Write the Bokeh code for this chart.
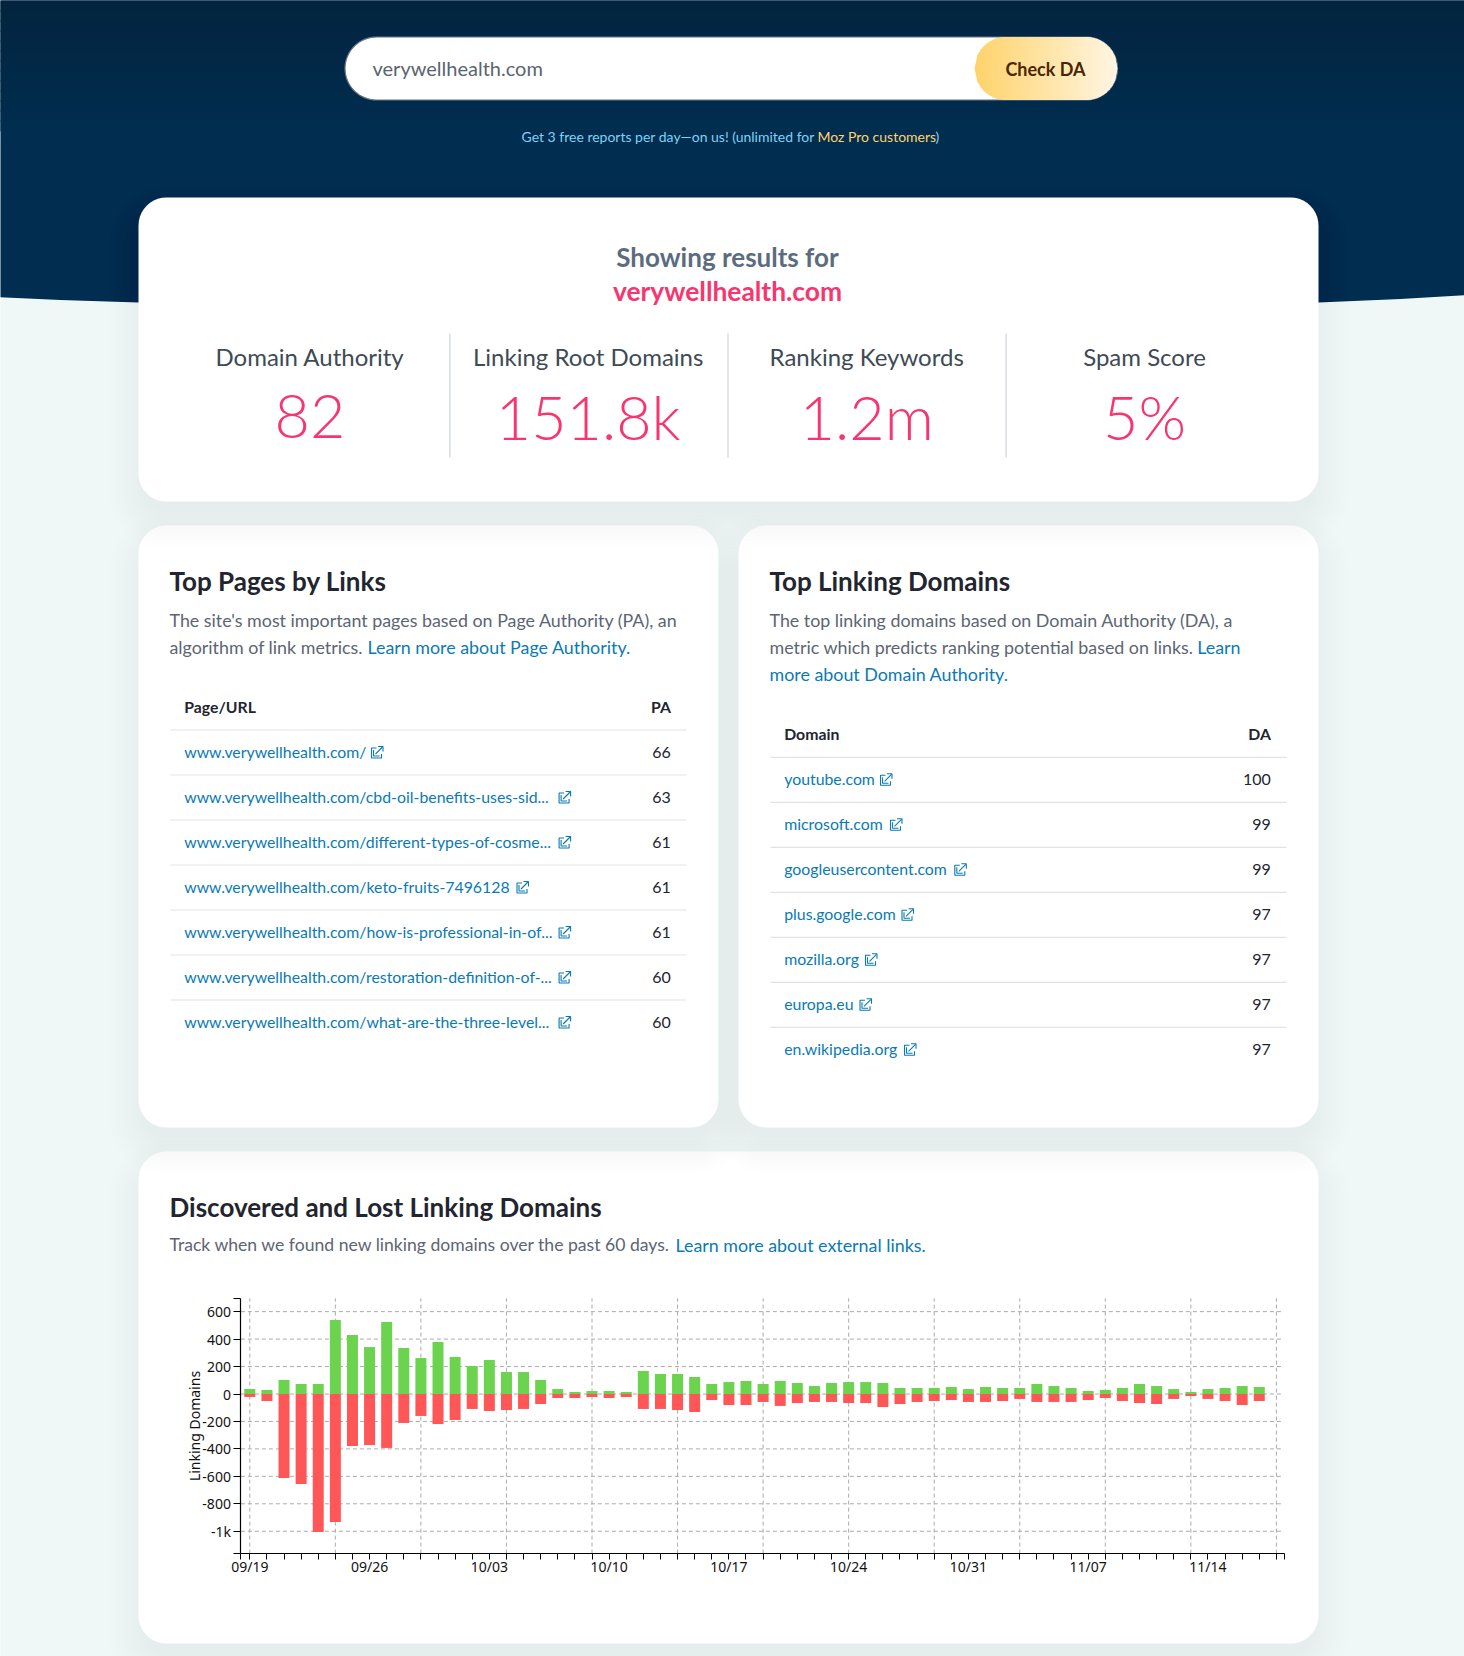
from bokeh.plotting import figure
from bokeh.embed import file_html
from bokeh.resources import INLINE
from bokeh.core.properties import value
from bokeh.models import Range1d, LinearAxis, FixedTicker, AllLabels
import math

# ---------- data ----------
discovered = [36, 29, 102, 73, 73, 539, 430, 342, 525, 335, 262, 379, 270, 204, 248, 160, 160, 102, 36, 15,
              22, 22, 15, 168, 146, 146, 124, 73, 87, 95, 73, 95, 80, 58, 80, 87, 87, 80, 44, 44,
              44, 51, 36, 51, 44, 44, 73, 58, 44, 22, 29, 44, 73, 58, 36, 15, 36, 44, 58, 51]
lost = [-22, -51, -612, -656, -1005, -933, -379, -372, -393, -211, -160, -219, -189, -109, -124, -117, -109, -73, -29, -29,
        -22, -29, -22, -109, -109, -117, -131, -44, -80, -80, -58, -87, -66, -58, -58, -66, -66, -95, -73, -58,
        -51, -44, -58, -58, -51, -36, -58, -58, -58, -44, -29, -51, -66, -73, -36, -15, -36, -51, -80, -51]
days = list(range(len(discovered)))
x_labels = {0: "09/19", 7: "09/26", 14: "10/03", 21: "10/10", 28: "10/17", 35: "10/24", 42: "10/31", 49: "11/07", 56: "11/14"}
y_values = [600, 400, 200, 0, -200, -400, -600, -800, -1000]
y_labels = ["600", "400", "200", "0", "-200", "-400", "-600", "-800", "-1k"]
x_grid_days = [0, 5, 10, 15, 20, 25, 30, 35, 40, 45, 50, 55, 60]

metrics = ["Domain Authority", "Linking Root Domains", "Ranking Keywords", "Spam Score"]
metric_values = ["82", "151.8k", "1.2m", "5%"]
pages = ["www.verywellhealth.com/", "www.verywellhealth.com/cbd-oil-benefits-uses-sid...",
         "www.verywellhealth.com/different-types-of-cosme...", "www.verywellhealth.com/keto-fruits-7496128",
         "www.verywellhealth.com/how-is-professional-in-of...", "www.verywellhealth.com/restoration-definition-of-...",
         "www.verywellhealth.com/what-are-the-three-level..."]
page_pa = [66, 63, 61, 61, 61, 60, 60]
domains = ["youtube.com", "microsoft.com", "googleusercontent.com", "plus.google.com", "mozilla.org", "europa.eu", "en.wikipedia.org"]
domain_da = [100, 99, 99, 97, 97, 97, 97]

# ---------- layout constants ----------
W, H = 1464, 1656
DAY0, DAYPX = 249.3, 17.11
ZERO, UNITPX = 1393.5, 0.13725
X_MIN, X_MAX = -0.52, 60.5
Y_MIN, Y_MAX = -1163, 697
NAVY_TOP, NAVY = (2, 36, 62), (1, 45, 80)
PAGE_BG = "#f0f7f7"
LINK = "#0a7ab3"
DESC = "#5c6573"
TITLE = "#22252f"
PINK = "#f7356f"
LATO = "Lato"
DESC_SIZE = 17.85
URL_SIZE = 15.85

p = figure(width=W, height=H, x_range=(0, W), y_range=(H, 0), min_border=0,
           x_axis_type=None, y_axis_type=None, toolbar_location=None, output_backend="svg",
           outline_line_color=None, background_fill_color=PAGE_BG, border_fill_color=PAGE_BG,
           styles={"position": "absolute", "left": "0", "top": "0"})
p.extra_x_ranges["days"] = Range1d(start=(0 - DAY0) / DAYPX, end=(W - DAY0) / DAYPX)
p.extra_y_ranges["dom"] = Range1d(start=(ZERO - H) / UNITPX, end=ZERO / UNITPX)


def rr(x0, y0, x1, y1, r, n=10):
    xs, ys = [], []
    corners = [(x1 - r, y0 + r, -90), (x1 - r, y1 - r, 0), (x0 + r, y1 - r, 90), (x0 + r, y0 + r, 180)]
    for cx, cy, a in corners:
        for k in range(n + 1):
            t = math.radians(a + 90 * k / n)
            xs.append(cx + r * math.cos(t))
            ys.append(cy + r * math.sin(t))
    return xs, ys


def txt(x, y, s, size, color, align="left", style="normal", font=LATO):
    p.text(x=[x], y=[y], text=[s], text_font=value(font), text_font_size=value(f"{size}px"), text_color=color,
           text_align=align, text_baseline="middle", text_font_style=style)


def card(x0, y0, x1, y1, r=28):
    for i in range(10):
        e = 30 - i * 4
        xs, ys = rr(x0 - e, y0 - e + 18, x1 + e, y1 + e + 18, max(r + e, 4))
        p.patch(xs, ys, fill_color="#1a3a3a", fill_alpha=0.0045, line_color=None)
    xs, ys = rr(x0, y0, x1, y1, r)
    p.patch(xs, ys, fill_color="white", line_color=None)


def icon(x, y, color=LINK):
    shapes = [[(5, -4), (0, -4), (0, 6), (10, 6), (10, 2)], [(2, -2), (2, 4), (8, 4)],
              [(4, 2), (11, -5)], [(6.5, -5.5), (11.5, -5.5), (11.5, -0.5)]]
    p.multi_line([[x + a for a, b in s] for s in shapes], [[y + b for a, b in s] for s in shapes],
                 line_color=color, line_width=1.1)


# ---------- page background ----------
p.patch([-5, 60, 138, 1318, 1400, W + 5, W + 5, -5], [296.5, 299.5, 302, 302, 298.5, 294.5, -5, -5],
        fill_color="#%02x%02x%02x" % NAVY, line_color=None)
for i in range(13):
    t = (i + 0.5) / 13
    c = tuple(round(a + (b - a) * t) for a, b in zip(NAVY_TOP, NAVY))
    p.quad(left=[-5], right=[W + 5], top=[i * 10 - (5 if i == 0 else 0)], bottom=[(i + 1) * 10 + 1],
           fill_color="#%02x%02x%02x" % c, line_color=None)

# ---------- search box ----------
bx0, by0, bx1, by1 = 344.5, 36.5, 1117, 99.5
xs, ys = rr(bx0, by0, bx1, by1, 31.5, 16)
p.patch(xs, ys, fill_color="white", line_color="#66758a", line_width=1.2)
btn_x0 = 974.0
rad = (by1 - by0) / 2
n_strips = 48
for i in range(n_strips):
    a = btn_x0 + (bx1 - btn_x0) * i / n_strips
    b = btn_x0 + (bx1 - btn_x0) * (i + 1) / n_strips
    t = (i + 0.5) / n_strips
    col = tuple(round(u + (v - u) * t) for u, v in zip((255, 211, 106), (255, 245, 227)))
    qx, qy_t, qy_b = [], [], []
    for x in (a, b, min(b + 1, bx1)):
        if x < btn_x0 + rad:
            d = btn_x0 + rad - x
        elif x > bx1 - rad:
            d = x - (bx1 - rad)
        else:
            d = 0
        h = math.sqrt(max(rad * rad - d * d, 0))
        qx.append(x)
        qy_t.append((by0 + by1) / 2 - h)
        qy_b.append((by0 + by1) / 2 + h)
    p.patch(qx + qx[::-1], qy_t + qy_b[::-1], fill_color="#%02x%02x%02x" % col, line_color=None)
txt(372, 67, "verywellhealth.com", 20, "#5a6570")
txt(1045, 68, "Check DA", 18, "#4a2606", "center", "bold")
txt(521, 136, "Get 3 free reports per day\u2014on us! (unlimited for ", 14, "#7dd3f5")
txt(817, 136, "Moz Pro customers", 14, "#ffd36b")
txt(935, 136, ")", 14, "#7dd3f5")

# ---------- cards ----------
card(138, 1151, 1318, 1643)
card(138, 525, 718, 1127)
card(738, 525, 1318, 1127)
card(138, 197, 1318, 501)

# ---------- header card ----------
txt(727, 256, "Showing results for", 26, "#5b6b80", "center", "bold")
txt(727, 290, "verywellhealth.com", 26.4, PINK, "center", "bold")
for dx in (449.4, 727.5, 1005.6):
    p.segment([dx], [333], [dx], [457], line_color="#c4ccd0", line_width=1)
for cx, m, v in zip((309.5, 587.7, 866.2, 1144), metrics, metric_values):
    txt(cx, 356, m, 24, "#3e4a55", "center")
    txt(cx, 416, v, 61, PINK, "center", font="Lato Light")

# ---------- tables ----------
def table(left, right, head_y, title, desc_lines, head_l, head_r, rows, vals, icons):
    txt(left - 1, 580, title, 26, TITLE, style="bold")
    for y, parts in desc_lines:
        for x, s, c in parts:
            txt(x - 1, y - 2, s, DESC_SIZE, c)
    txt(left + 13.7, head_y - 1, head_l, 15.8, "#22252f", style="bold")
    txt(right - 15.6, head_y - 1, head_r, 15.8, "#22252f", "right", "bold")
    line0 = head_y + 22.5
    for k in range(len(rows)):
        p.segment([left], [line0 + 45 * k], [right], [line0 + 45 * k], line_color="#dfe3e5", line_width=1.2)
        y = line0 + 22.5 + 45 * k
        txt(left + 13.7, y - 1, rows[k], URL_SIZE, LINK)
        txt(right - 15.6, y, str(vals[k]), 16, "#22252f", "right")
        icon(icons[k], y - 0.5)


table(170, 686, 707, "Top Pages by Links",
      [(621, [(170, "The site's most important pages based on Page Authority (PA), an", DESC)]),
       (648, [(170, "algorithm of link metrics. ", DESC), (368, "Learn more about Page Authority.", LINK)])],
      "Page/URL", "PA", pages, page_pa, [371, 558.6, 558.6, 516.5, 558.6, 558.6, 558.6])
table(770, 1286, 734.3, "Top Linking Domains",
      [(621, [(770, "The top linking domains based on Domain Authority (DA), a", DESC)]),
       (648, [(770, "metric which predicts ranking potential based on links. ", DESC), (1197.7, "Learn", LINK)]),
       (675, [(770, "more about Domain Authority.", LINK)])],
      "Domain", "DA", domains, domain_da, [880, 890, 954.3, 901.5, 865, 859.5, 904])

# ---------- chart card ----------
txt(169, 1206, "Discovered and Lost Linking Domains", 26, TITLE, style="bold")
txt(169, 1244, "Track when we found new linking domains over the past 60 days. ", 17.6, DESC)
txt(675, 1244, "Learn more about external links.", DESC_SIZE, LINK)

RN = dict(x_range_name="days", y_range_name="dom")
GRID = dict(line_color="#aaaaaa", line_width=1)
g1 = p.segment(x0=x_grid_days, y0=[Y_MIN] * len(x_grid_days), x1=x_grid_days, y1=[Y_MAX] * len(x_grid_days), **RN, **GRID)
g2 = p.segment(x0=[X_MIN] * len(y_values), y0=y_values, x1=[60.28] * len(y_values), y1=y_values, **RN, **GRID)
g1.glyph.line_dash = [4, 3]
g2.glyph.line_dash = [4, 3]
p.vbar(x=days, top=discovered, bottom=0, width=0.643, fill_color="#6cd34f", line_color=None, **RN)
p.vbar(x=days, top=0, bottom=lost, width=0.643, fill_color="#ff5757", line_color=None, **RN)

x_ticks = [X_MIN] + days + [60, X_MAX]
x_over = {t: x_labels.get(t, "") for t in x_ticks}
xaxis = LinearAxis(fixed_location=Y_MIN, bounds=(X_MIN, X_MAX), ticker=FixedTicker(ticks=x_ticks),
                   major_label_overrides=x_over, major_label_policy=AllLabels(), **RN,
                   major_tick_in=0, major_tick_out=6, minor_tick_line_color=None,
                   axis_line_color="black", axis_line_width=1.2, major_tick_line_color="black",
                   major_label_text_font="Noto Sans", major_label_text_font_size="14px",
                   major_label_text_color="#111111", major_label_standoff=-3)
p.add_layout(xaxis, "below")

y_ticks = [Y_MAX] + y_values + [Y_MIN]
y_over = dict(zip(y_values, y_labels))
y_over[Y_MAX] = ""
y_over[Y_MIN] = ""
yaxis = LinearAxis(fixed_location=X_MIN, bounds=(Y_MIN, Y_MAX), ticker=FixedTicker(ticks=y_ticks),
                   major_label_overrides=y_over, major_label_policy=AllLabels(), **RN,
                   major_tick_in=0, major_tick_out=7, minor_tick_line_color=None,
                   axis_line_color="black", axis_line_width=1.2, major_tick_line_color="black",
                   major_label_text_font="Noto Sans", major_label_text_font_size="14px",
                   major_label_text_color="#111111", major_label_standoff=3,
                   axis_label="Linking Domains", axis_label_text_font="Noto Sans",
                   axis_label_text_font_size="14px", axis_label_text_font_style="normal",
                   axis_label_text_color="#111111", axis_label_standoff=-5)
p.add_layout(yaxis, "left")

open("out.html", "w").write(file_html(p, INLINE))
